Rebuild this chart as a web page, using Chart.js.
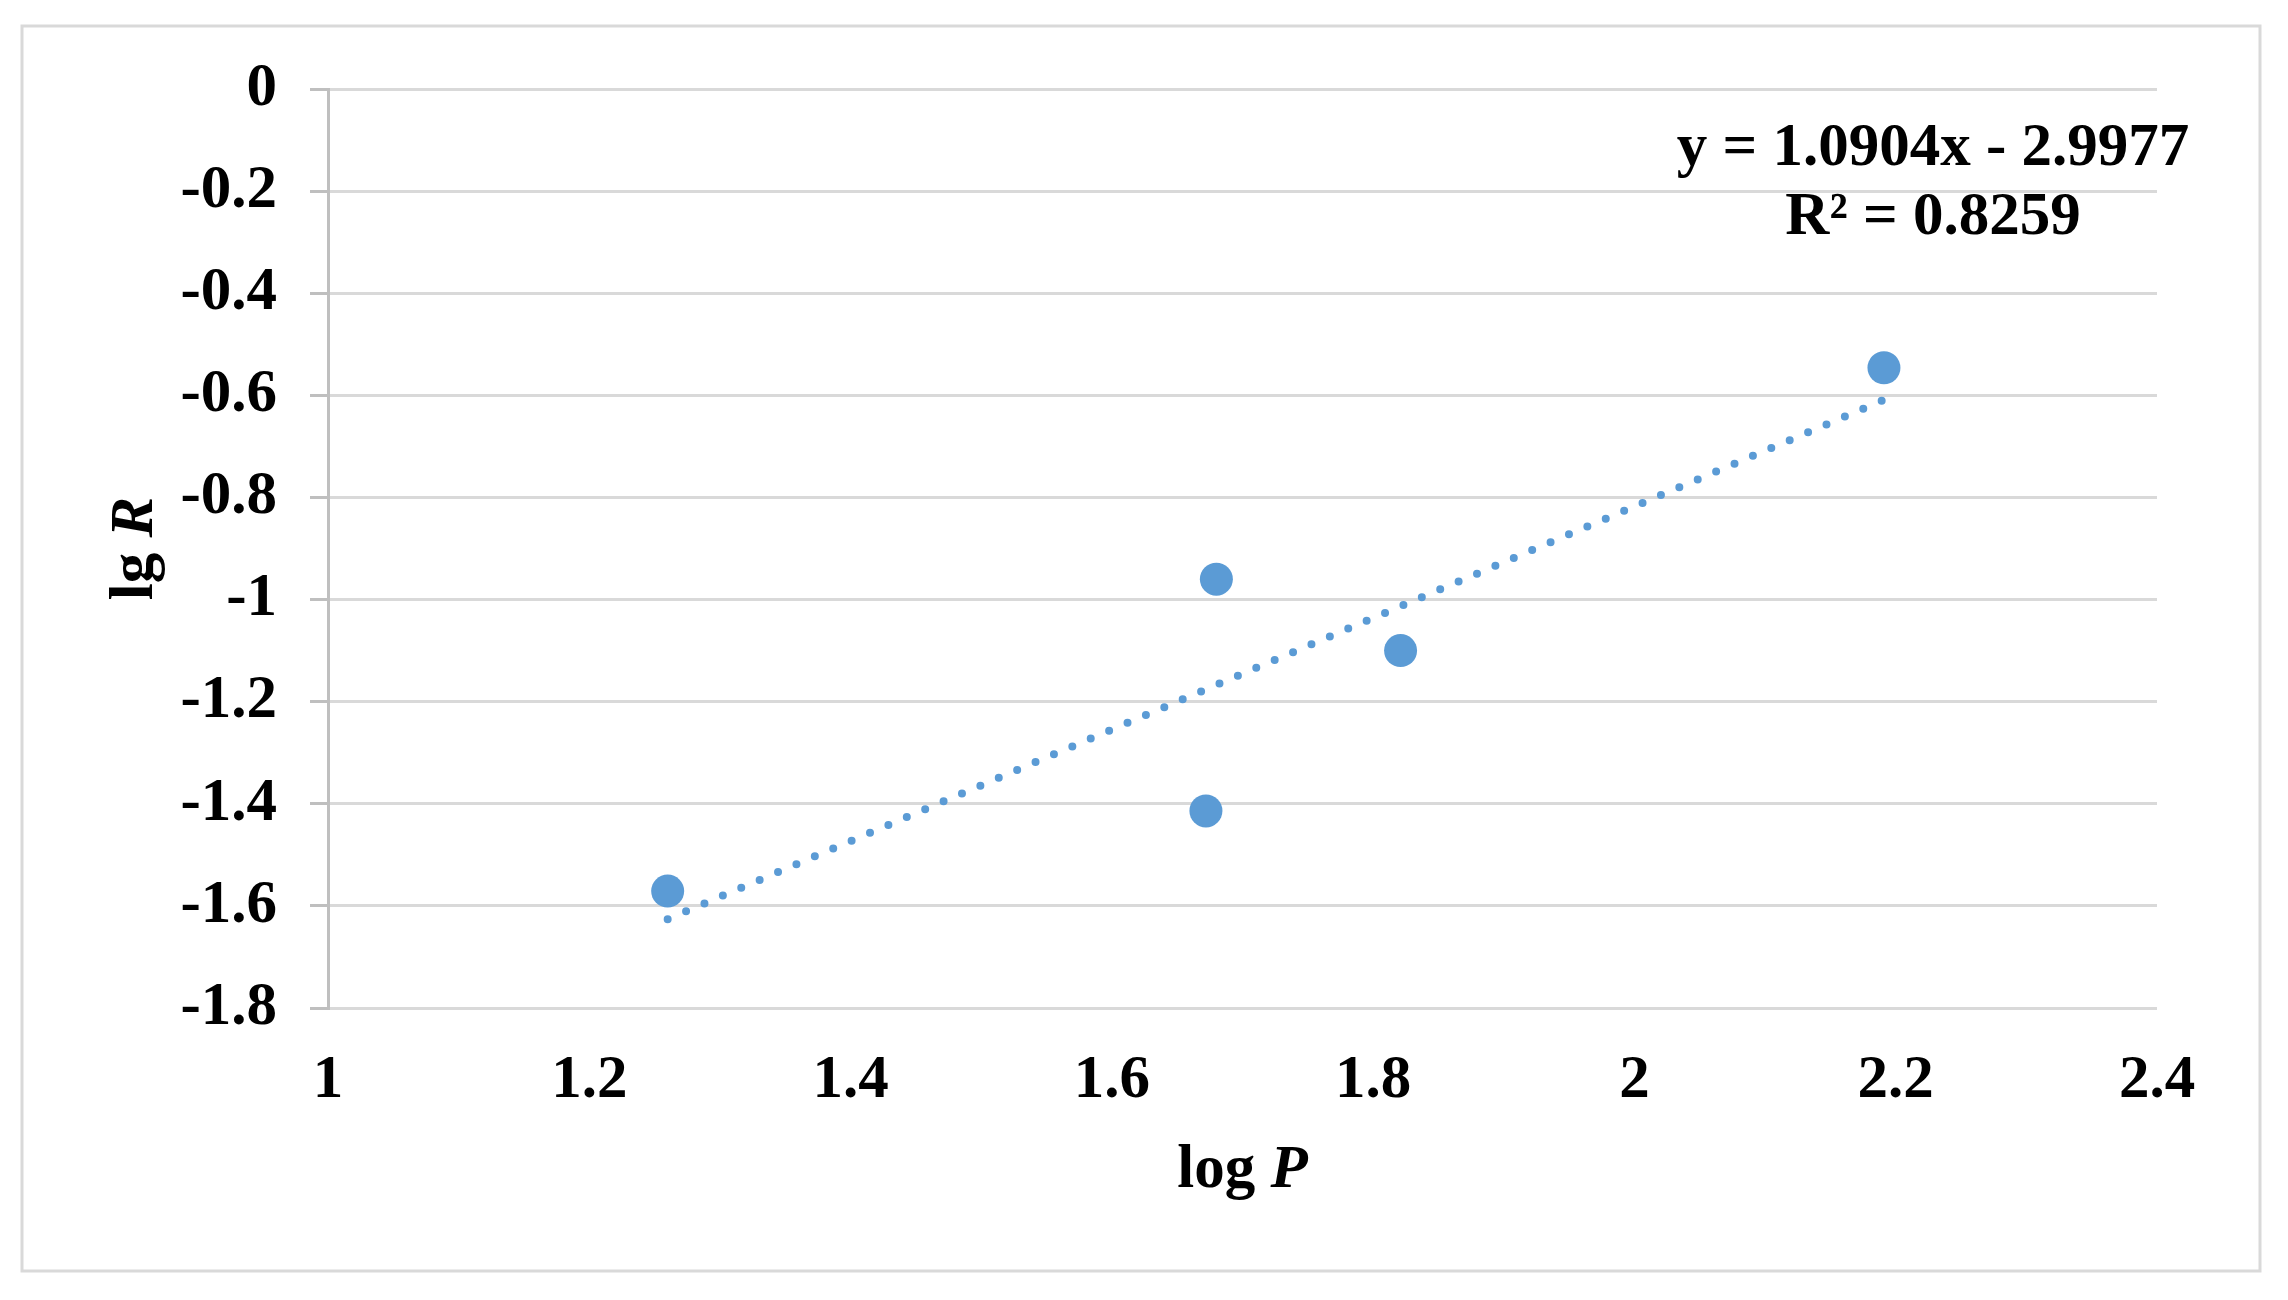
<!DOCTYPE html>
<html>
<head>
<meta charset="utf-8">
<title>lg R vs log P</title>
<script src="https://cdn.jsdelivr.net/npm/chart.js@4/dist/chart.umd.min.js"></script>
<style>
    html, body { margin: 0; padding: 0; background: #fff; }
    #wrap { width: 2288px; height: 1300px; position: relative; }
</style>
</head>
<body>
<div id="wrap"><canvas id="chart"></canvas></div>
<script>
    // values
    var logP = [1.260, 1.680, 1.672, 1.821, 2.191];
    var lgR = [-1.571, -0.960, -1.414, -1.100, -0.546];
    var trendX = [1.26, 2.19];
    var trendY = [-1.626, -0.610];
    var xTicks = [1, 1.2, 1.4, 1.6, 1.8, 2, 2.2, 2.4];
    var yTicks = [0, -0.2, -0.4, -0.6, -0.8, -1, -1.2, -1.4, -1.6, -1.8];
    var equationLines = ["y = 1.0904x - 2.9977", "R\u00b2 = 0.8259"];

    var FONT = "'Liberation Serif', 'Times New Roman', serif";
    var BLUE = "#5b9bd5";

    var pairs = function (xs, ys) {
        return xs.map(function (x, i) { return {x: x, y: ys[i]}; });
    };

    var fmt = function (v) {
        return String(Math.round(v * 10) / 10);
    };

    // outer frame, axis titles with italic letters, trendline label
    var decor = {
        id: "decor",
        beforeDraw: function (chart) {
            var ctx = chart.ctx;
            ctx.save();
            ctx.fillStyle = "#fff";
            ctx.fillRect(0, 0, chart.width, chart.height);
            ctx.strokeStyle = "#d9d9d9";
            ctx.lineWidth = 3;
            ctx.strokeRect(22, 26, 2238, 1245);
            ctx.restore();
        },
        afterDraw: function (chart) {
            var ctx = chart.ctx;
            var area = chart.chartArea;
            ctx.save();
            ctx.fillStyle = "#000";
            ctx.textBaseline = "alphabetic";

            var mixed = function (a, b, cx, cy) {
                ctx.font = "bold 61px " + FONT;
                var wa = ctx.measureText(a).width;
                ctx.font = "italic bold 61px " + FONT;
                var wb = ctx.measureText(b).width;
                var x0 = cx - (wa + wb) / 2;
                ctx.font = "bold 61px " + FONT;
                ctx.textAlign = "left";
                ctx.fillText(a, x0, cy);
                ctx.font = "italic bold 61px " + FONT;
                ctx.fillText(b, x0 + wa, cy);
            };

            mixed("log ", "P", (area.left + area.right) / 2, 1187);

            ctx.save();
            ctx.translate(152, (area.top + area.bottom) / 2);
            ctx.rotate(-Math.PI / 2);
            mixed("lg ", "R", 0, 0);
            ctx.restore();

            ctx.font = "bold 61px " + FONT;
            ctx.textAlign = "center";
            ctx.fillText(equationLines[0], area.right - 224, 165);
            ctx.fillText(equationLines[1], area.right - 224, 234);
            ctx.restore();
        }
    };

    var ctx = document.getElementById("chart").getContext("2d");
    var myChart = new Chart(ctx, {
        type: "scatter",
        data: {
            datasets: [{
                label: "trend",
                data: pairs(trendX, trendY),
                showLine: true,
                borderColor: BLUE,
                borderWidth: 8,
                borderDash: [0, 20],
                borderCapStyle: "round",
                pointRadius: 0,
                pointHoverRadius: 0,
                fill: false,
                order: 2
            }, {
                label: "data",
                data: pairs(logP, lgR),
                backgroundColor: BLUE,
                borderColor: BLUE,
                borderWidth: 0,
                pointRadius: 16.5,
                pointHoverRadius: 16.5,
                order: 1
            }]
        },
        options: {
            responsive: true,
            maintainAspectRatio: false,
            animation: false,
            devicePixelRatio: 1,
            layout: {
                padding: {left: 0, top: 89, right: 131, bottom: 0}
            },
            plugins: {
                legend: {display: false},
                tooltip: {enabled: false},
                title: {display: false}
            },
            scales: {
                x: {
                    type: "linear",
                    min: 1,
                    max: 2.4,
                    afterBuildTicks: function (axis) {
                        axis.ticks = xTicks.map(function (v) { return {value: v}; });
                    },
                    afterFit: function (axis) { axis.height = 292; },
                    grid: {display: false, drawTicks: false},
                    border: {display: false},
                    ticks: {
                        color: "#000",
                        padding: 37,
                        maxRotation: 0,
                        autoSkip: false,
                        font: {family: FONT, size: 61, weight: "bold"},
                        callback: fmt
                    }
                },
                y: {
                    type: "linear",
                    min: -1.8,
                    max: 0,
                    afterBuildTicks: function (axis) {
                        axis.ticks = yTicks.map(function (v) { return {value: v}; });
                    },
                    afterFit: function (axis) { axis.width = 328; },
                    grid: {
                        color: "#d9d9d9",
                        lineWidth: 3,
                        tickLength: 18,
                        tickColor: "#bfbfbf",
                        tickWidth: 3
                    },
                    border: {display: true, color: "#bfbfbf", width: 3},
                    ticks: {
                        color: "#000",
                        padding: 33,
                        autoSkip: false,
                        font: {family: FONT, size: 61, weight: "bold"},
                        callback: fmt
                    }
                }
            }
        },
        plugins: [decor]
    });
</script>
</body>
</html>
